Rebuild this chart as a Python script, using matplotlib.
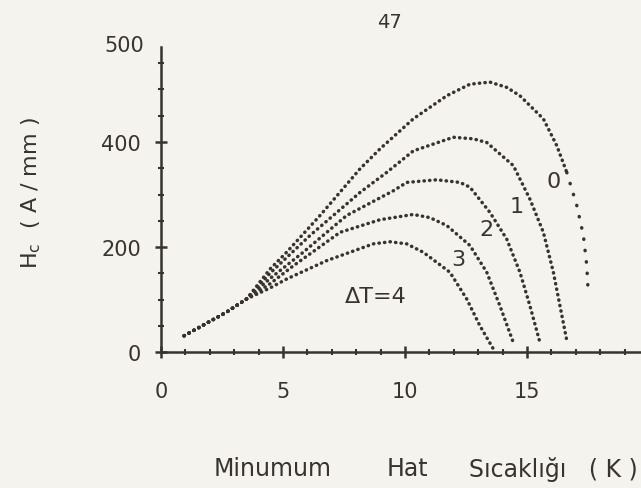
import matplotlib
matplotlib.use('Agg')
import matplotlib.pyplot as plt
from matplotlib.ticker import MultipleLocator

# Hc vs minimum line temperature, one curve per delta T
x0 = [0.95, 2.69, 3.51, 4.47, 5.15, 6.52, 8.16, 8.98, 10.34, 11.71, 12.66, 13.48, 14.17, 14.71, 15.67, 16.22, 16.63, 17.04, 17.31, 17.45, 17.51]
y0 = [31, 76, 101, 158, 190, 260, 349, 387, 444, 488, 510, 514, 504, 488, 444, 393, 342, 279, 222, 164, 110]

x1 = [0.95, 2.69, 3.51, 4.47, 6.11, 8.16, 9.25, 10.34, 11.98, 12.8, 13.35, 14.44, 15.12, 15.67, 16.08, 16.35, 16.63]
y1 = [31, 76, 101, 150, 222, 304, 342, 383, 409, 406, 399, 355, 291, 228, 152, 88, 22]

x2 = [0.95, 2.69, 3.51, 4.47, 5.83, 7.61, 9.52, 10.07, 11.3, 12.25, 12.66, 13.48, 14.17, 14.71, 15.12, 15.53]
y2 = [31, 76, 101, 140, 190, 260, 307, 323, 328, 323, 314, 266, 215, 152, 88, 18]

x3 = [0.95, 2.69, 3.51, 4.47, 5.42, 7.34, 8.98, 10.34, 11.02, 11.71, 12.66, 13.35, 13.89, 14.44]
y3 = [31, 76, 101, 130, 164, 228, 252, 262, 256, 241, 203, 152, 88, 18]

x4 = [0.95, 2.69, 3.51, 4.47, 5.15, 6.79, 8.70, 9.39, 10.07, 10.75, 11.84, 12.53, 13.07, 13.62]
y4 = [31, 76, 101, 122, 139, 174, 206, 210, 206, 190, 152, 101, 50, 6]

curve_labels = ['0', '1', '2', '3', '\u0394T=4']
label_x = [16.1, 14.58, 13.35, 12.19, 8.8]
label_y = [326, 279, 234, 177, 107]

ink = '#38332f'
paper = '#f4f3ee'
dots = (0, (0.1, 1.5))

fig = plt.figure(figsize=(6.41, 4.89), dpi=100)
fig.patch.set_facecolor(paper)
ax = fig.add_axes([0.251, 0.278, 0.749, 0.624])
ax.set_facecolor(paper)

# dT=0 curve: the printer spaced the dots out on its steep tail
ax.plot(x0[:17], y0[:17], color=ink, lw=2.5, ls=dots, dash_capstyle='round')
ax.plot(x0[16:], y0[16:], color=ink, lw=2.5, ls=(0, (0.1, 3.2)), dash_capstyle='round')
for xs, ys in [(x1, y1), (x2, y2), (x3, y3), (x4, y4)]:
    ax.plot(xs, ys, color=ink, lw=2.5, ls=dots, dash_capstyle='round')

for t, lx, ly in zip(curve_labels, label_x, label_y):
    ax.text(lx, ly, t, color=ink, fontsize=16, ha='center', va='center')

ax.set_xlim(0, 19.67)
ax.set_ylim(0, 581)
for s in ['top', 'right']:
    ax.spines[s].set_visible(False)
for s in ['left', 'bottom']:
    ax.spines[s].set_linewidth(1.8)
    ax.spines[s].set_color(ink)

ax.set_xticks([0, 5, 10, 15])
ax.set_xticklabels(['0', '5', '10', '15'])
ax.xaxis.set_minor_locator(MultipleLocator(1))
ax.set_yticks([0, 200, 400])
ax.set_yticklabels(['0', '200', '400'])
ax.yaxis.set_minor_locator(MultipleLocator(50))
ax.tick_params(which='major', direction='inout', length=9, width=1.8, color=ink,
               labelcolor=ink, labelsize=15)
ax.tick_params(which='minor', direction='inout', length=5, width=1.5, color=ink)
ax.tick_params(axis='x', pad=16)
ax.tick_params(axis='y', pad=10)

# the hand drawn axis carries its "500" at the very top
ax.text(-0.7, 585, '500', color=ink, fontsize=15, ha='right', va='center')

ax.set_ylabel('H$_\\mathregular{c}$  ( A / mm )', color=ink, fontsize=16)
ax.yaxis.set_label_coords(-0.246, 0.525)

fig.text(0.425, 0.04, 'Minumum', color=ink, fontsize=17, ha='center', va='center')
fig.text(0.635, 0.04, 'Hat', color=ink, fontsize=17, ha='center', va='center')
fig.text(0.995, 0.04, 'S\u0131cakl\u0131\u011f\u0131   ( K )', color=ink,
         fontsize=17, ha='right', va='center')
fig.text(0.607, 0.955, '47', color=ink, fontsize=14, ha='center', va='center')

fig.savefig('out.png', dpi=100, facecolor=paper)
